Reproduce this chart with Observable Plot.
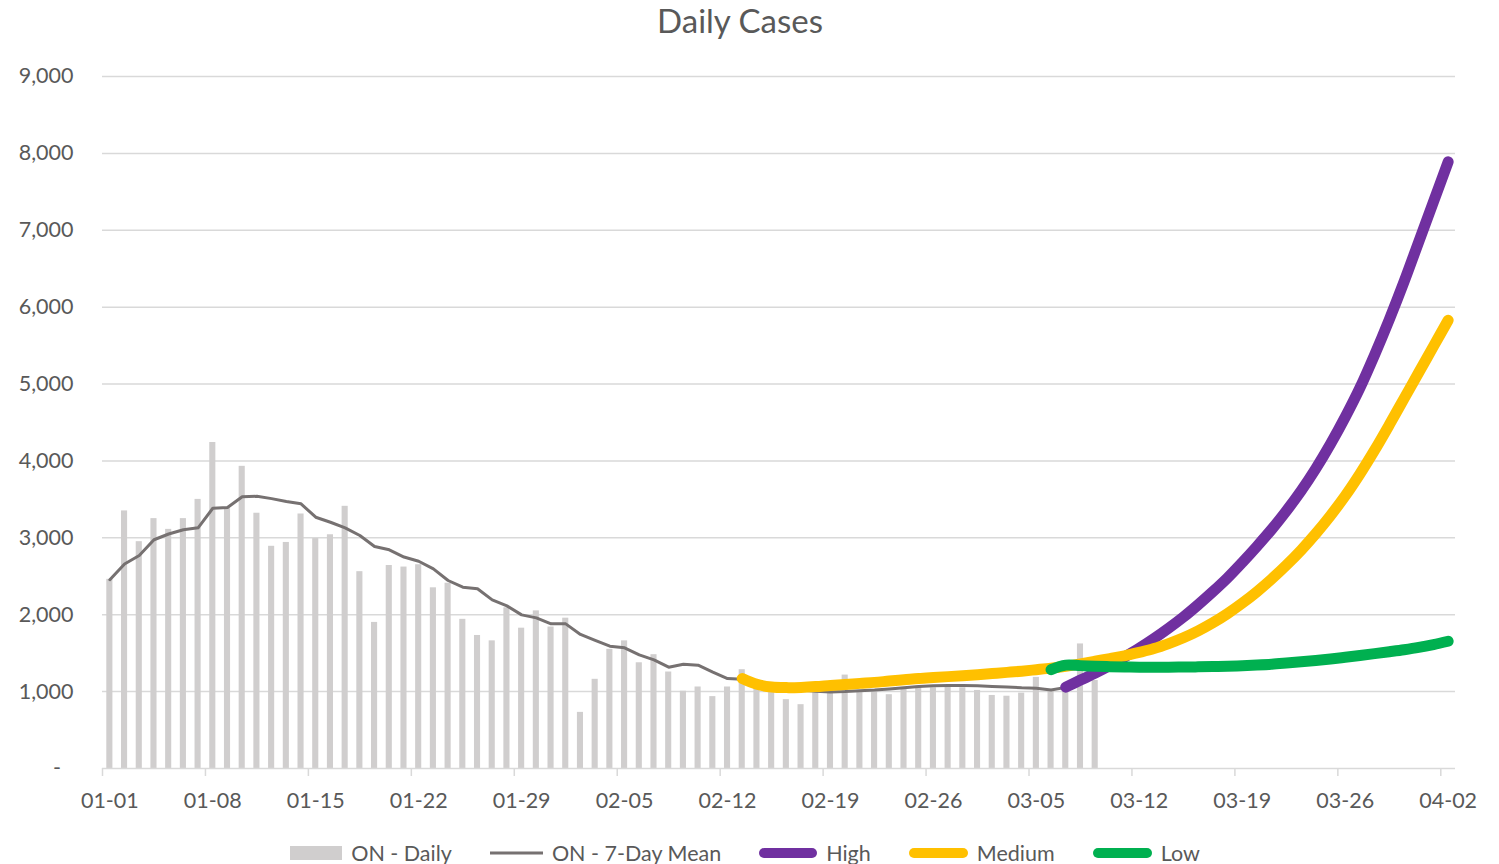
<!DOCTYPE html>
<html><head><meta charset="utf-8">
<script src="https://cdn.jsdelivr.net/npm/d3@7"></script>
<script src="https://cdn.jsdelivr.net/npm/@observablehq/plot@0.6"></script>
<style>
body{margin:0;background:#fff;font-family:Lato,sans-serif;color:#595959;}
#title{height:46px;box-sizing:border-box;padding-top:1px;font-size:33px;line-height:1.2;text-align:center;width:1480px;}
#chart svg{display:block;}
#legend{display:flex;justify-content:center;align-items:center;gap:38px;margin-top:28px;height:24px;font-size:21.5px;width:1490px;}
.item{display:flex;align-items:center;gap:9px;}
.item svg{display:block;overflow:visible;}
</style></head><body>
<div id="title">Daily Cases</div>
<div id="chart"></div>
<div id="legend"></div>
<script>
// ---- data ----
const year = 2021;
const tickLabels = ["01-01","01-08","01-15","01-22","01-29","02-05","02-12","02-19","02-26","03-05","03-12","03-19","03-26","04-02"];
const yTicks = [0,1000,2000,3000,4000,5000,6000,7000,8000,9000];

const dailyStart = "01-01";
const dailyCases = [2460,3350,2950,3250,3110,3250,3500,4240,3380,3930,3320,2890,2940,3310,2990,3040,3410,2560,1900,2640,2620,2650,2350,2410,1940,1730,1660,2090,1825,2050,1840,1955,730,1160,1550,1660,1375,1480,1255,1005,1060,935,1060,1285,1040,1000,895,830,1000,1010,1215,1010,1010,960,1055,1070,1050,1080,1050,1015,950,940,980,1185,1030,1050,1620,1145];

const meanStart = "01-01";
const mean7 = [2455,2660,2770,2975,3050,3105,3130,3385,3395,3535,3540,3510,3472,3442,3268,3203,3130,3030,2887,2844,2750,2696,2596,2445,2358,2337,2193,2115,1998,1959,1881,1881,1743,1665,1591,1569,1478,1413,1318,1357,1344,1253,1170,1160,1120,1080,1050,1020,1005,995,1000,1010,1020,1035,1050,1065,1075,1080,1080,1075,1068,1060,1050,1045,1020,1055];

const highStart = "03-07";
const high = [1058,1150,1240,1340,1450,1565,1690,1825,1970,2130,2300,2480,2680,2890,3110,3350,3610,3900,4220,4570,4950,5380,5840,6330,6850,7370,7890];

const mediumStart = "02-13";
const medium = [1170,1095,1060,1052,1055,1065,1080,1093,1107,1120,1137,1153,1170,1183,1195,1207,1220,1235,1250,1266,1285,1305,1330,1360,1395,1430,1465,1510,1560,1625,1700,1790,1895,2015,2150,2300,2465,2645,2840,3055,3290,3545,3830,4140,4470,4810,5150,5490,5830];

const lowStart = "03-06";
const low = [1285,1345,1338,1330,1324,1320,1318,1318,1318,1320,1322,1325,1330,1337,1346,1357,1372,1388,1405,1425,1447,1470,1494,1519,1545,1575,1612,1655];

const seriesNames = ["ON - Daily","ON - 7-Day Mean","High","Medium","Low"];
const colors = {daily:"#D0CECE", mean:"#767171", high:"#7030A0", medium:"#FFC000", low:"#00B050"};

// ---- build tables ----
const parse = s => new Date(Date.UTC(year, +s.slice(0,2) - 1, +s.slice(3)));
const toRows = (start, values) => values.map((v, k) => ({date: d3.utcDay.offset(parse(start), k), value: v}));
const halfDay = 12 * 3600 * 1000;

const dailyRows = toRows(dailyStart, dailyCases);
const meanRows = toRows(meanStart, mean7);
const highRows = toRows(highStart, high);
const mediumRows = toRows(mediumStart, medium);
const lowRows = toRows(lowStart, low);

const labelDates = tickLabels.map(parse);
const boundaryDates = labelDates.map(d => new Date(+d - halfDay));
const xDomain = [new Date(+labelDates[0] - halfDay), new Date(+labelDates[labelDates.length - 1] + halfDay)];

const projStyle = {x: "date", y: "value", strokeWidth: 11, strokeLinecap: "round", strokeLinejoin: "round", curve: "catmull-rom"};

const chart = Plot.plot({
  width: 1499,
  height: 767,
  marginLeft: 102,
  marginRight: 44,
  marginTop: 30,
  marginBottom: 45,
  style: {fontFamily: "Lato, sans-serif", fontSize: "21.5px", color: "#595959", background: "#fff", overflow: "visible"},
  x: {type: "utc", domain: xDomain, label: null},
  y: {domain: [0, 9000], label: null},
  marks: [
    Plot.gridY(yTicks.filter(d => d > 0), {stroke: "#d9d9d9", strokeOpacity: 1, strokeWidth: 1.5}),
    Plot.axisY({ticks: yTicks, tickSize: 0, tickPadding: 29, label: null, tickFormat: d => d === 0 ? "-\u2007" : d3.format(",")(d)}),
    Plot.rectY(dailyRows, {
      x1: d => new Date(+d.date - halfDay),
      x2: d => new Date(+d.date + halfDay),
      y: "value", fill: colors.daily, insetLeft: 4.3, insetRight: 4.3
    }),
    Plot.ruleY([0], {stroke: "#d9d9d9", strokeWidth: 1.5}),
    Plot.axisX({ticks: boundaryDates, tickSize: 8, label: null, tickFormat: () => "", stroke: "#d9d9d9", strokeWidth: 1.5}),
    Plot.axisX({ticks: labelDates, tickSize: 0, tickPadding: 24, label: null, tickFormat: d3.utcFormat("%m-%d")}),
    Plot.lineY(meanRows, {x: "date", y: "value", stroke: colors.mean, strokeWidth: 3}),
    Plot.lineY(highRows, {...projStyle, stroke: colors.high}),
    Plot.lineY(mediumRows, {...projStyle, stroke: colors.medium}),
    Plot.lineY(lowRows, {...projStyle, stroke: colors.low})
  ]
});
document.getElementById("chart").appendChild(chart);

// ---- legend ----
const legend = d3.select("#legend");
const swatches = [
  {name: seriesNames[0], kind: "rect", color: colors.daily, w: 52},
  {name: seriesNames[1], kind: "thin", color: colors.mean, w: 53},
  {name: seriesNames[2], kind: "thick", color: colors.high, w: 58},
  {name: seriesNames[3], kind: "thick", color: colors.medium, w: 59},
  {name: seriesNames[4], kind: "thick", color: colors.low, w: 59}
];
for (const s of swatches) {
  const item = legend.append("div").attr("class", "item");
  const svg = item.append("svg").attr("width", s.w).attr("height", 14);
  if (s.kind === "rect") {
    svg.append("rect").attr("x", 0).attr("y", 0).attr("width", s.w).attr("height", 14).attr("fill", s.color);
  } else if (s.kind === "thin") {
    svg.append("line").attr("x1", 0).attr("x2", s.w).attr("y1", 7).attr("y2", 7).attr("stroke", s.color).attr("stroke-width", 3);
  } else {
    svg.append("line").attr("x1", 5).attr("x2", s.w - 5).attr("y1", 7).attr("y2", 7).attr("stroke", s.color).attr("stroke-width", 10).attr("stroke-linecap", "round");
  }
  item.append("span").text(s.name);
}
</script>
</body></html>
